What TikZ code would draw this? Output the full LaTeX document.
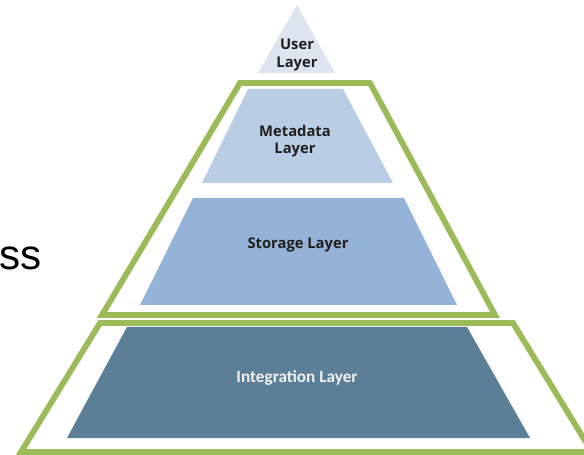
\documentclass[tikz,border=0pt]{standalone}
\usepackage{fontspec}
\setmainfont{Open Sans}
\newfontfamily\calfont{Carlito}
\newfontfamily\arialfont{Liberation Sans}
\definecolor{framegreen}{HTML}{9BBB59}
\definecolor{userfill}{HTML}{DCE4EF}
\definecolor{metafill}{HTML}{B9CDE5}
\definecolor{storefill}{HTML}{95B3D7}
\definecolor{integfill}{HTML}{5A7F96}
\tikzset{
  frame/.style={draw=framegreen, line width=3.3pt},
  lbl/.style={align=center, inner sep=0pt, text=black!88,
    font=\bfseries\fontsize{8.4}{10}\selectfont}
}

\begin{document}
\begin{tikzpicture}[x=0.02cm,y=-0.02cm]
    \useasboundingbox (0,0) rectangle (584,455);
    \clip (0,0) rectangle (584,455);
    % Draw the four layers
    \fill[userfill] (297,5) -- (335,73) -- (258,73) -- cycle;
    \fill[metafill] (248,89) -- (343,89) -- (393,183) -- (202,183) -- cycle;
    \fill[storefill] (193,198) -- (404,198) -- (457,305) -- (140,305) -- cycle;
    \fill[integfill] (127,327) -- (467,327) -- (530,438) -- (67,438) -- cycle;
    % Draw the two green frames
    \draw[frame] (240,83) -- (370,83) -- (495,315) -- (102,315) -- cycle;
    \draw[frame] (100,323) -- (513,323) -- (592,452) -- (21,452) -- cycle;
    % Labels
    \node[lbl] (user) at (297,55) {User\\Layer};
    \node[lbl] (meta) at (295,141) {Metadata\\Layer};
    \node[lbl] (store) at (298,245) {Storage Layer};
    \node[lbl, text=white!94!black, font=\calfont\bfseries\fontsize{9.8}{11}\selectfont] (integ) at (297,378) {Integration Layer};
    \node[inner sep=0pt, anchor=base west, font=\arialfont\fontsize{24}{28}\selectfont] (word) at (-1,270) {ss};
\end{tikzpicture}
\end{document}
